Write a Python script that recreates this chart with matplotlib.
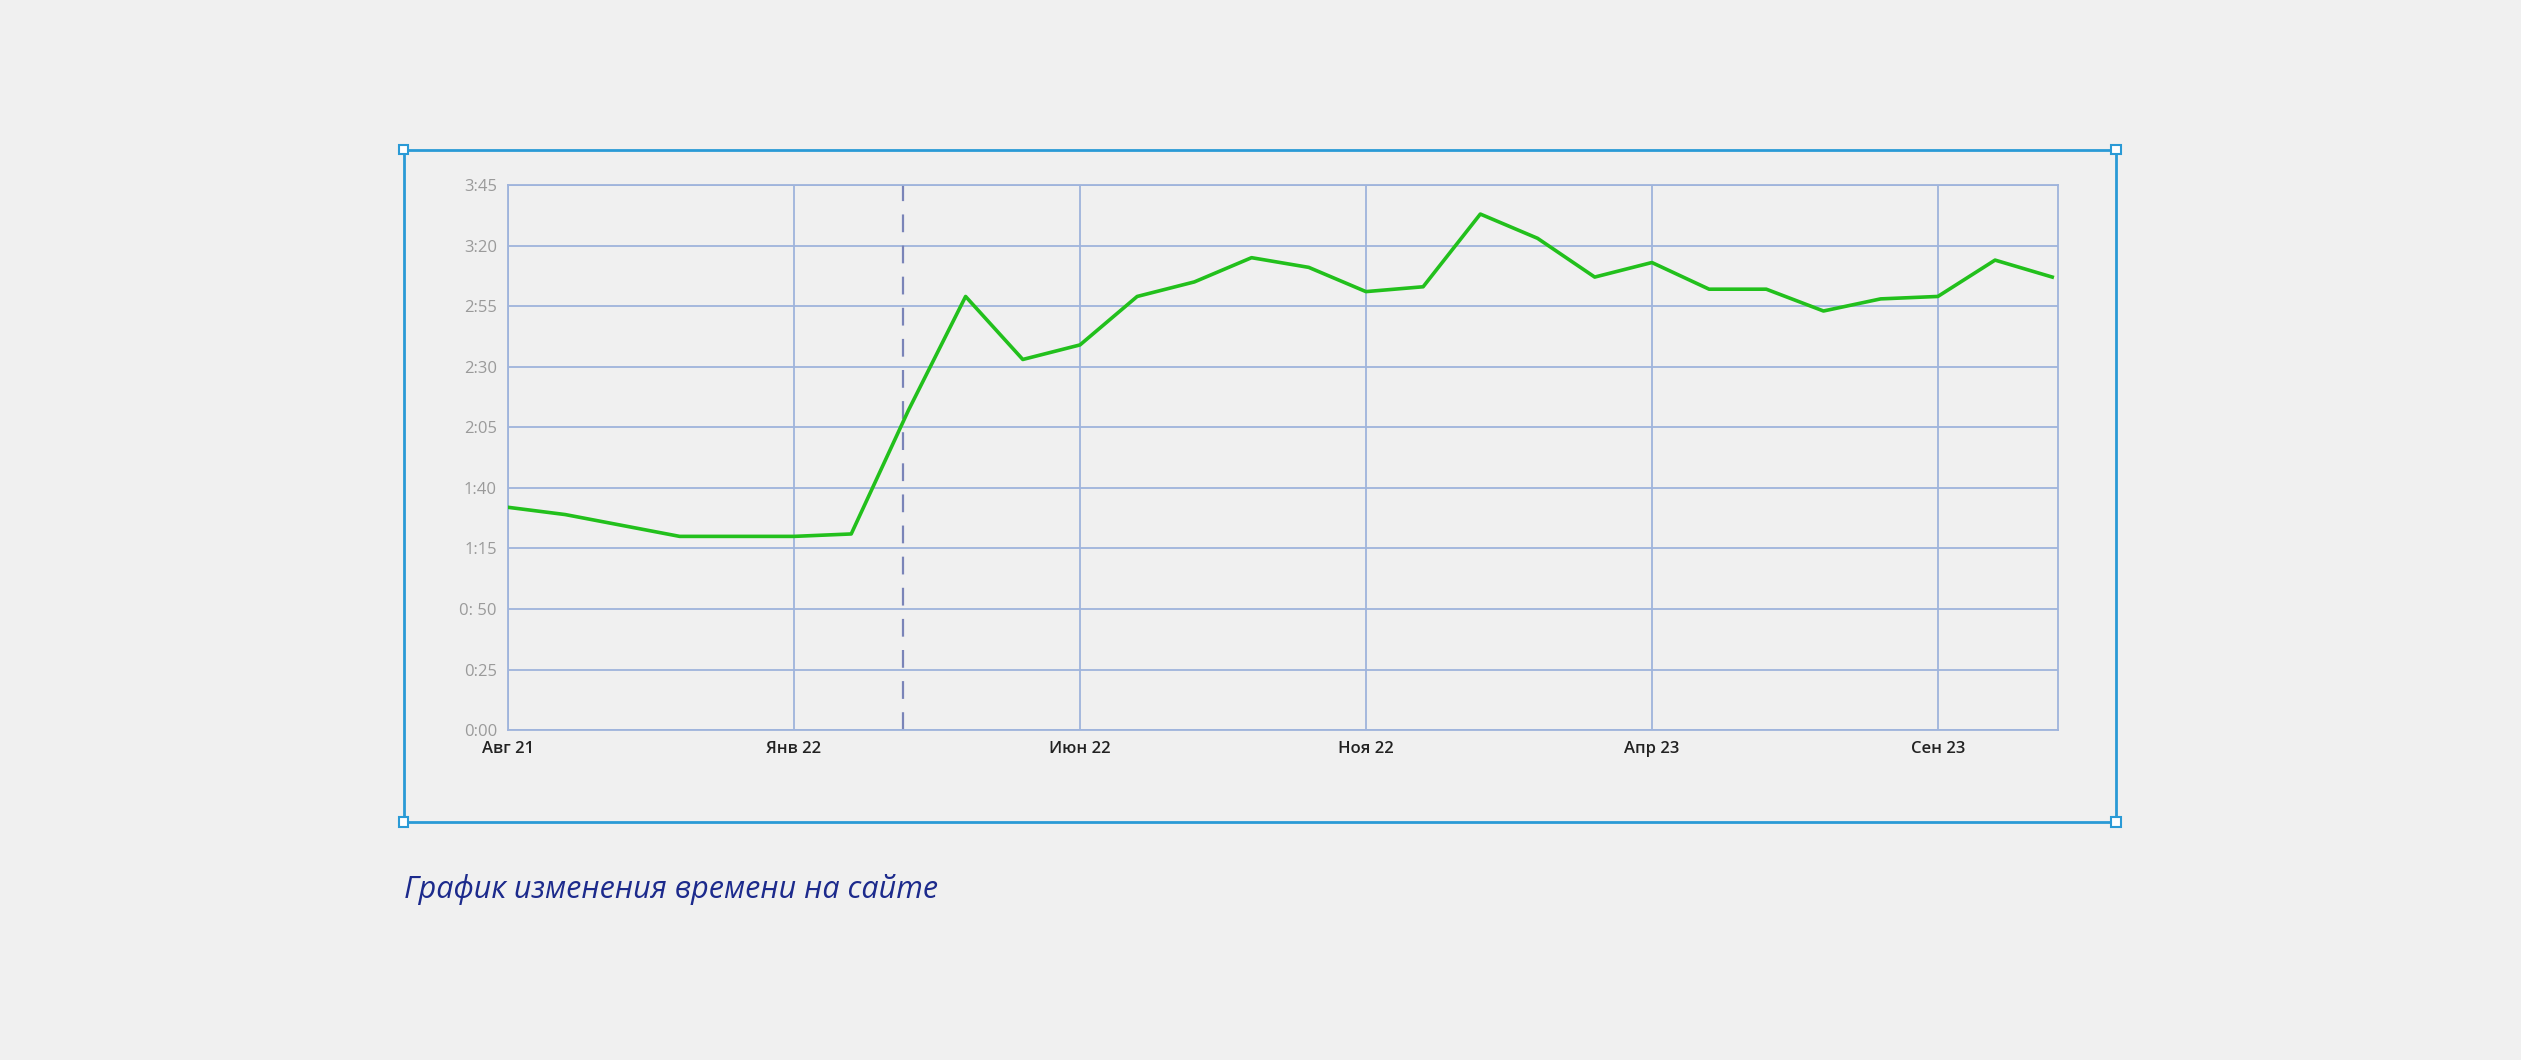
import matplotlib.pyplot as plt
from matplotlib.patches import Rectangle

plt.rcParams['font.family'] = ['Open Sans', 'DejaVu Sans']

# month index from Aug 21, time on site in seconds
months = [0, 1, 3, 5, 6, 7, 8, 9, 10, 11, 12, 13, 14, 15, 16, 17, 18, 19, 20, 21, 22, 23, 24, 25, 26, 27]
seconds = [92, 89, 80, 80, 81, 132, 179, 153, 159, 179, 185, 195, 191, 181, 183, 213, 203, 187, 193, 182, 182, 173, 178, 179, 194, 187]
xtick_pos = [0, 5, 10, 15, 20, 25]
xtick_labels = ['Авг 21', 'Янв 22', 'Июн 22', 'Ноя 22', 'Апр 23', 'Сен 23']
ytick_vals = [0, 25, 50, 75, 100, 125, 150, 175, 200, 225]
ytick_labels = ['0:00', '0:25', '0: 50', '1:15', '1:40', '2:05', '2:30', '2:55', '3:20', '3:45']

bg = '#f0f0f0'
fig = plt.figure(figsize=(25.21, 10.60), dpi=100, facecolor=bg)
W, H = 1568, 659
ax = fig.add_axes([316 / W, 1 - 454 / H, (1280 - 316) / W, (454 - 115) / H], facecolor=bg)

ax.plot(months, seconds, color='#22c01c', lw=2.6, zorder=3)
ax.axvline(6.9, color='#7a84b8', lw=1.6, ls=(0, (8, 6)), zorder=2)

ax.set_xlim(0, 27.1)
ax.set_ylim(0, 225)
ax.set_xticks(xtick_pos)
ax.set_xticklabels(xtick_labels, fontsize=12, color='#222222', fontweight='semibold')
ax.set_yticks(ytick_vals)
ax.set_yticklabels(ytick_labels, fontsize=12, color='#9a9a9a')
ax.tick_params(length=0, pad=8)
ax.grid(True, color='#9fb4dc', lw=1.3)
for s in ax.spines.values():
    s.set_color('#9fb4dc')
    s.set_linewidth(1.3)

# selection frame with handles
frame_ax = fig.add_axes([0, 0, 1, 1], facecolor='none')
frame_ax.set_xlim(0, W)
frame_ax.set_ylim(H, 0)
frame_ax.axis('off')
frame_ax.add_patch(Rectangle((251, 93), 1316 - 251, 511 - 93, fill=False, ec='#2a9ad6', lw=2))
for cx, cy in [(251, 93), (1316, 93), (251, 511), (1316, 511)]:
    frame_ax.add_patch(Rectangle((cx - 3, cy - 3), 6, 6, fc='white', ec='#2a9ad6', lw=1.5))

fig.text(251 / W, 1 - 553 / H, 'График изменения времени на сайте', fontsize=22,
         style='italic', color='#1c2a8c', va='center', ha='left')

fig.savefig('out.png', dpi=100, facecolor=bg)
